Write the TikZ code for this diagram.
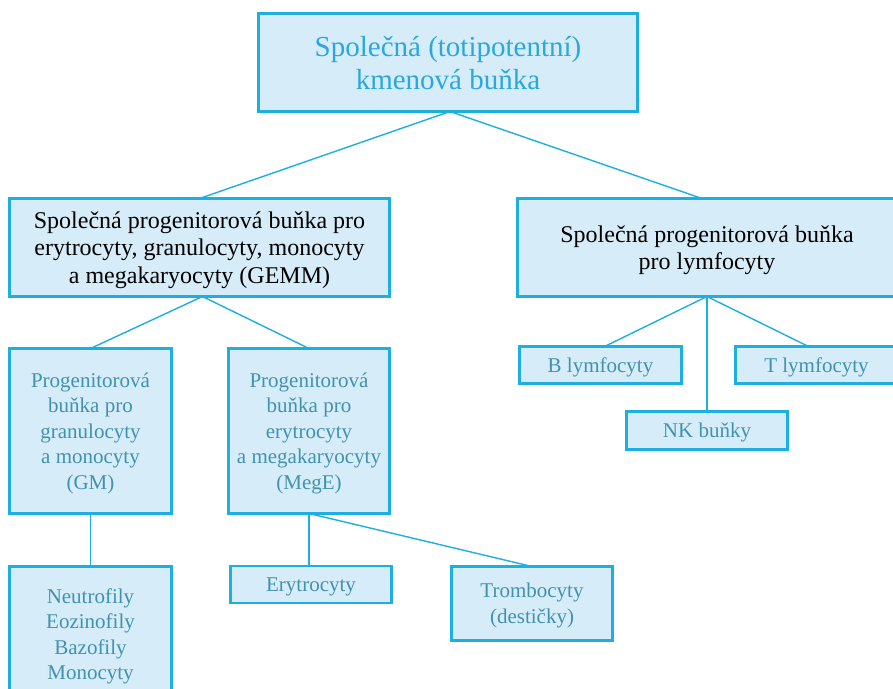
\documentclass[tikz,border=0pt]{standalone}
\usepackage{fontspec}
\setmainfont{Liberation Serif}
\definecolor{bfill}{HTML}{D6ECF8}
\definecolor{bline}{HTML}{1DAEE2}
\definecolor{ttop}{HTML}{29A8E0}
\definecolor{tteal}{HTML}{4192B0}
\begin{document}
\begin{tikzpicture}[x=1pt,y=-1pt,
  box/.style={draw=bline, fill=bfill, line width=2.6pt, inner sep=0pt, outer sep=0pt, align=center, text depth=0pt},
  big/.style={font=\fontsize{24}{27.5}\selectfont, text=black},
  small/.style={font=\fontsize{21}{25.6}\selectfont, text=tteal},
  conn/.style={draw=bline, line width=1.4pt}]
\useasboundingbox (0,0) rectangle (893,688);
\node[box, minimum width=379pt, minimum height=98pt, text=ttop, font=\fontsize{29}{33}\selectfont] (top) at (448,62.5) {Společná (totipotentní)\\kmenová buňka};
\node[box, big, minimum width=380pt, minimum height=98pt] (gemm) at (199.5,247.5) {Společná progenitorová buňka pro\\erytrocyty, granulocyty, monocyty\\a megakaryocyty (GEMM)};
\node[box, big, minimum width=379pt, minimum height=98pt] (lymph) at (707,247.5) {Společná progenitorová buňka\\pro lymfocyty};
\node[box, small, minimum width=162pt, minimum height=165pt] (gm) at (90.5,431) {Progenitorová\\buňka pro\\granulocyty\\a monocyty\\(GM)};
\node[box, small, minimum width=161pt, minimum height=165pt] (mege) at (309,431) {Progenitorová\\buňka pro\\erytrocyty\\a megakaryocyty\\(MegE)};
\node[box, small, minimum width=162pt, minimum height=37pt] (bl) at (600.5,365) {B lymfocyty};
\node[box, small, minimum width=162pt, minimum height=37pt] (tl) at (816.5,365) {T lymfocyty};
\node[box, small, minimum width=161pt, minimum height=38pt] (nk) at (707,430.5) {NK buňky};
\node[box, small, minimum width=162pt, minimum height=135pt] (neu) at (90.5,634) {Neutrofily\\Eozinofily\\Bazofily\\Monocyty};
\node[box, small, minimum width=161pt, minimum height=37pt] (ery) at (311,584.5) {Erytrocyty};
\node[box, small, minimum width=161pt, minimum height=74pt] (tro) at (532,603.5) {Trombocyty\\(destičky)};
\draw[conn] ([xshift=2pt]top.south) -- (gemm.north);
\draw[conn] ([xshift=2pt]top.south) -- ([xshift=-5pt]lymph.north);
\draw[conn] ([xshift=3pt]gemm.south) -- (gm.north);
\draw[conn] ([xshift=3pt]gemm.south) -- (mege.north);
\draw[conn] (lymph.south) -- ([xshift=4pt]bl.north);
\draw[conn] (lymph.south) -- (nk.north);
\draw[conn] (lymph.south) -- ([xshift=-8pt]tl.north);
\draw[conn] (gm.south) -- (neu.north);
\draw[conn] (mege.south) -- (mege.south |- ery.north);
\draw[conn] (mege.south) -- (tro.north);
\end{tikzpicture}
\end{document}
